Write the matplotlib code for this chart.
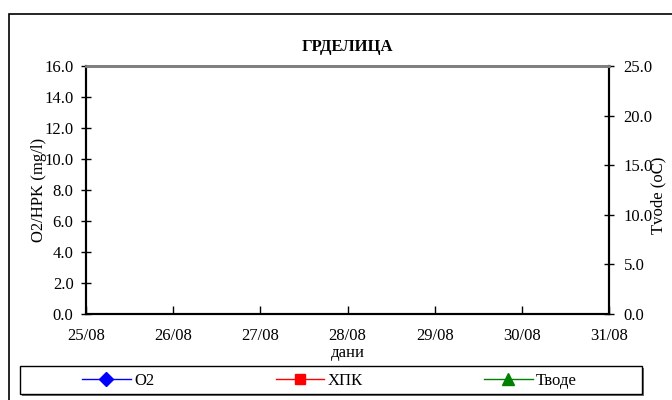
import matplotlib
matplotlib.use("Agg")
import matplotlib.pyplot as plt
from matplotlib.patches import Rectangle

plt.rcParams['font.family'] = ['Liberation Serif', 'DejaVu Serif']

title = "ГРДЕЛИЦА"
dates = ["25/08", "26/08", "27/08", "28/08", "29/08", "30/08", "31/08"]
o2 = []
hpk = []
tvode = []
left_ticks = [0, 2, 4, 6, 8, 10, 12, 14, 16]
right_ticks = [0, 5, 10, 15, 20, 25]

W, H = 672, 400
FS = 12
fig = plt.figure(figsize=(W / 100, H / 100), dpi=100)
ax = fig.add_axes([86 / W, 1 - 314 / H, (609 - 86) / W, (314 - 66) / H])
ax2 = ax.twinx()

x_o2 = list(range(len(o2)))
x_hpk = list(range(len(hpk)))
x_tv = list(range(len(tvode)))
l1, = ax.plot(x_o2, o2, color='blue', marker='D', markersize=7, lw=1, label='O2')
l2, = ax.plot(x_hpk, hpk, color='red', marker='s', markersize=7, lw=1, label='ХПК')
l3, = ax2.plot(x_tv, tvode, color='green', marker='^', markersize=8, lw=1, label='Тводе')

ax.set_xlim(0, len(dates) - 1)
ax.set_xticks(range(len(dates)))
ax.set_xticklabels(dates)
ax.set_ylim(0, 16)
ax.set_yticks(left_ticks)
ax.set_yticklabels([f"{v:.1f}" for v in left_ticks])
ax2.set_ylim(0, 25)
ax2.set_yticks(right_ticks)
ax2.set_yticklabels([f"{v:.1f}" for v in right_ticks])

for a in (ax, ax2):
    for s in ('left', 'right', 'bottom'):
        a.spines[s].set_linewidth(1.5)
        a.spines[s].set_color('black')
    a.spines['top'].set_color('#808080')
    a.spines['top'].set_linewidth(2)
    a.tick_params(labelsize=FS, width=1)
ax.tick_params(axis='y', direction='inout', length=7, pad=5.5)
ax2.tick_params(axis='y', direction='inout', length=7, pad=7)
ax.tick_params(axis='x', direction='in', length=6, pad=10)

ax.set_title(title, fontsize=FS, fontweight='bold', pad=11)
ax.set_xlabel("дани", fontsize=FS)
ax.xaxis.set_label_coords(0.5, -(353 - 314) / (314 - 66), transform=ax.transAxes)
ax.xaxis.label.set_va('center')
ax.set_ylabel("O2/HPK (mg/l)", fontsize=FS)
ax.yaxis.set_label_coords((39 - 86) / (609 - 86), 0.5, transform=ax.transAxes)
ax.yaxis.label.set_va('center')
ax2.set_ylabel("Tvode (oC)", fontsize=FS)
ax2.yaxis.set_label_coords((658 - 86) / (609 - 86), (314 - 195) / (314 - 66), transform=ax.transAxes)
ax2.yaxis.label.set_va('center')

# figure border
fig.patches.append(Rectangle((9 / W, -0.01), 1.0, 1 - 14 / H + 0.01,
                             transform=fig.transFigure, fill=False,
                             edgecolor='black', lw=1.2))

# legend box with shadow
lx0, lx1, ly0, ly1 = 20, 642, 366, 394
fig.patches.append(Rectangle(((lx0 + 2) / W, 1 - (ly1 + 2) / H), (lx1 - lx0) / W, (ly1 - ly0) / H,
                             transform=fig.transFigure, facecolor='#707070',
                             edgecolor='none', zorder=1))
fig.patches.append(Rectangle((lx0 / W, 1 - ly1 / H), (lx1 - lx0) / W, (ly1 - ly0) / H,
                             transform=fig.transFigure, facecolor='white',
                             edgecolor='black', lw=1, zorder=2))
leg = fig.legend([l1, l2, l3], ['O2', 'ХПК', 'Тводе'], ncol=3,
                 loc='center', bbox_to_anchor=((lx0 + lx1) / 2 / W - 1.5 / W, 1 - (ly0 + ly1 + 2) / 2 / H),
                 fontsize=FS, handlelength=2.9, handletextpad=0.2,
                 columnspacing=7.3, frameon=False, borderpad=0)
leg.set_zorder(3)

fig.savefig("out.png", dpi=100)
